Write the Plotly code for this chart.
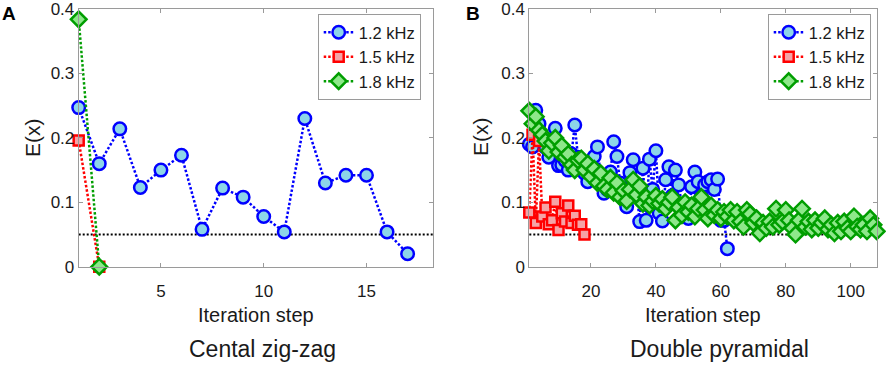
import plotly.graph_objects as go

W, H = 886, 365

# ---------------- data ----------------
# Panel A: Cental zig-zag
a_steps_12 = list(range(1, 18))
a_e_12 = [0.247, 0.160, 0.214, 0.123, 0.150, 0.173, 0.058, 0.122, 0.108,
          0.078, 0.054, 0.230, 0.130, 0.142, 0.142, 0.054, 0.020]
a_steps_15 = [1, 2]
a_e_15 = [0.196, 0.0]
a_steps_18 = [1, 2]
a_e_18 = [0.384, 0.0]

# Panel B: Double pyramidal
b_e_12 = [0.190, 0.186, 0.243, 0.222, 0.200, 0.185, 0.170, 0.190, 0.215, 0.157,
          0.158, 0.165, 0.150, 0.175, 0.220, 0.170, 0.150, 0.145, 0.132, 0.160,
          0.171, 0.186, 0.140, 0.114, 0.120, 0.147, 0.194, 0.171, 0.130, 0.105,
          0.093, 0.146, 0.166, 0.120, 0.070, 0.153, 0.072, 0.167, 0.120, 0.180,
          0.083, 0.071, 0.135, 0.155, 0.110, 0.150, 0.127, 0.095, 0.085, 0.075,
          0.124, 0.147, 0.132, 0.110, 0.127, 0.132, 0.135, 0.120, 0.136, 0.072,
          0.072, 0.028]
b_steps_12 = list(range(1, len(b_e_12) + 1))

b_e_15 = [0.084, 0.205, 0.068, 0.195, 0.078, 0.092, 0.066, 0.072, 0.101, 0.057,
          0.083, 0.070, 0.095, 0.068, 0.079, 0.065, 0.066, 0.050]
b_steps_15 = list(range(1, len(b_e_15) + 1))

b_e_18 = [0.242, 0.222, 0.233, 0.212, 0.205, 0.195, 0.180, 0.192, 0.200, 0.178,
          0.188, 0.170, 0.175, 0.158, 0.150, 0.165, 0.168, 0.150, 0.160, 0.140,
          0.152, 0.130, 0.145, 0.125, 0.120, 0.138, 0.115, 0.130, 0.108, 0.118,
          0.102, 0.120, 0.135, 0.112, 0.125, 0.098, 0.108, 0.095, 0.102, 0.110,
          0.098, 0.105, 0.090, 0.100, 0.108, 0.072, 0.092, 0.080, 0.100, 0.085,
          0.095, 0.078, 0.090, 0.108, 0.088, 0.075, 0.095, 0.080, 0.088, 0.075,
          0.085, 0.078, 0.088, 0.072, 0.085, 0.070, 0.062, 0.088, 0.082, 0.068,
          0.075, 0.052, 0.068, 0.060, 0.070, 0.062, 0.090, 0.065, 0.070, 0.088,
          0.072, 0.060, 0.050, 0.072, 0.090, 0.062, 0.070, 0.058, 0.072, 0.060,
          0.068, 0.075, 0.058, 0.065, 0.052, 0.068, 0.055, 0.070, 0.060, 0.055,
          0.078, 0.062, 0.058, 0.065, 0.055, 0.075, 0.065, 0.055]
b_steps_18 = list(range(1, len(b_e_18) + 1))

threshold = 0.05
series_names = ["1.2 kHz", "1.5 kHz", "1.8 kHz"]
y_ticks = [0, 0.1, 0.2, 0.3, 0.4]
a_x_ticks = [5, 10, 15]
b_x_ticks = [20, 40, 60, 80, 100]
a_xrange = [1, 18.25]
b_xrange = [1, 108]
y_range = [0, 0.4001]
titles = ["Cental zig-zag", "Double pyramidal"]
panel_labels = ["A", "B"]

# ---------------- styles ----------------
FONT = "Liberation Sans, Arial, sans-serif"
TXT = "#1a1a1a"
AXC = "#9a9a9a"
styles = [
    dict(symbol="circle", size=12.5, fill="#8dd6e8", edge="#0000ff"),
    dict(symbol="square", size=10, fill="#f5a3a6", edge="#ff0000"),
    dict(symbol="diamond", size=12, fill="#8ee88a", edge="#009e00"),
]


def px2x(p):
    return p / W


def px2y(p):
    return 1 - p / H


fig = go.Figure()

panels = [
    dict(xa="x", ya="y", legend="legend",
         data=[(a_steps_12, a_e_12), (a_steps_15, a_e_15), (a_steps_18, a_e_18)]),
    dict(xa="x2", ya="y2", legend="legend2",
         data=[(b_steps_12, b_e_12), (b_steps_15, b_e_15), (b_steps_18, b_e_18)]),
]

for p in panels:
    for (xs, ys), st, name in zip(p["data"], styles, series_names):
        fig.add_trace(go.Scatter(
            x=xs, y=ys, name=name, mode="lines+markers",
            xaxis=p["xa"], yaxis=p["ya"], legend=p["legend"],
            cliponaxis=False,
            line=dict(color=st["edge"], width=2.5, dash="2.5px,2px"),
            marker=dict(symbol=st["symbol"], size=st["size"], color=st["fill"],
                        line=dict(color=st["edge"], width=2.5)),
        ))

# threshold lines
for xa, ya in [("x", "y"), ("x2", "y2")]:
    fig.add_shape(type="line", xref=f"{xa} domain", yref=ya,
                  x0=0, x1=1, y0=threshold, y1=threshold,
                  line=dict(color="black", width=2, dash="2px,2px"), layer="below")

axis_common = dict(showline=True, linecolor=AXC, linewidth=1, mirror="ticks",
                   showgrid=False, zeroline=False,
                   tickfont=dict(family=FONT, size=17, color=TXT))


def xaxis_cfg(dom, rng, ticks, anchor):
    # major ticks are invisible spacers (push labels down); visible ticks are inside minor ticks
    return dict(domain=dom, range=rng, tickvals=ticks, anchor=anchor,
                ticks="outside", ticklen=9, tickcolor="rgba(0,0,0,0)",
                minor=dict(tickvals=ticks, ticks="inside", ticklen=4, tickcolor=AXC,
                           showgrid=False),
                **axis_common)


def yaxis_cfg(dom, ticks, anchor):
    return dict(domain=dom, range=y_range, tickvals=ticks, anchor=anchor,
                ticks="inside", ticklen=4, tickcolor=AXC, **axis_common)


a_dom = [px2x(78.7), px2x(433.3)]
b_dom = [px2x(529.3), px2x(876.7)]
y_dom = [px2y(266.7), px2y(9)]

legend_common = dict(xanchor="right", y=px2y(14), yanchor="top",
                     bgcolor="white", bordercolor=AXC, borderwidth=1,
                     font=dict(family=FONT, size=16.5, color=TXT),
                     tracegroupgap=0, itemsizing="trace")

fig.update_layout(
    width=W, height=H, margin=dict(l=0, r=0, t=0, b=0, autoexpand=False),
    paper_bgcolor="white", plot_bgcolor="white",
    font=dict(family=FONT, color=TXT),
    xaxis=xaxis_cfg(a_dom, a_xrange, a_x_ticks, "y"),
    yaxis=yaxis_cfg(y_dom, y_ticks, "x"),
    xaxis2=xaxis_cfg(b_dom, b_xrange, b_x_ticks, "y2"),
    yaxis2=yaxis_cfg(y_dom, y_ticks, "x2"),
    legend=dict(x=px2x(420.7), **legend_common),
    legend2=dict(x=px2x(870.7), **legend_common),
    showlegend=True,
)

annots = []
# y titles
for cx in [32, 480]:
    annots.append(dict(text="E(x)", x=px2x(cx), y=px2y(137), textangle=-90,
                       font=dict(size=21)))
# x titles
for cx in [256, 703]:
    annots.append(dict(text="Iteration step", x=px2x(cx), y=px2y(315),
                       font=dict(size=20)))
# subtitles
for cx, t in zip([262, 719], titles):
    annots.append(dict(text=t, x=px2x(cx), y=px2y(349), font=dict(size=23)))
# panel labels
for cx, t in zip([9, 473], panel_labels):
    annots.append(dict(text=f"<b>{t}</b>", x=px2x(cx), y=px2y(14),
                       font=dict(size=19, color="black")))

for a in annots:
    a.update(xref="paper", yref="paper", showarrow=False,
             xanchor="center", yanchor="middle")
    a["font"] = dict(family=FONT, color=a["font"].get("color", TXT),
                     size=a["font"]["size"])
    fig.add_annotation(**a)

fig.write_html("out.html", config={"displayModeBar": False},
               post_script="document.body.style.margin='0px';"
                           "document.body.style.overflow='hidden';")
